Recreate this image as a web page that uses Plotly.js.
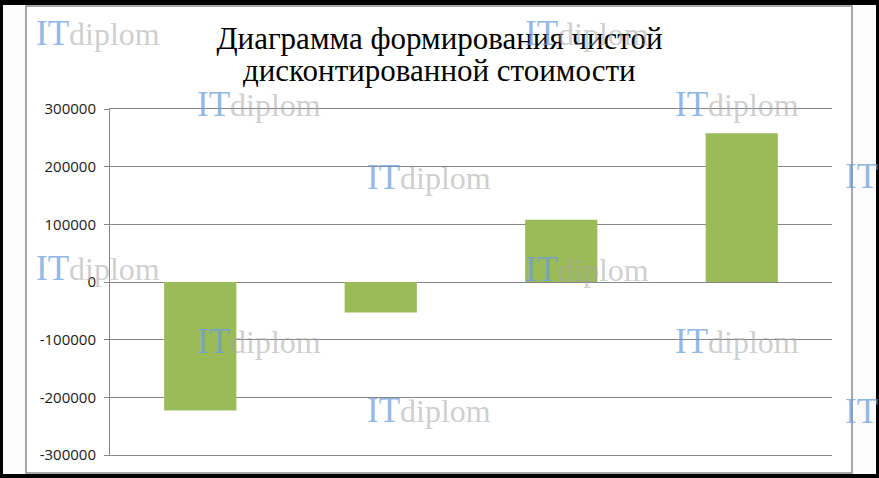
<!DOCTYPE html>
<html>
<head>
<meta charset="utf-8">
<script src="https://cdn.plot.ly/plotly-3.0.1.min.js"></script>
<style>html,body{margin:0;padding:0;background:#000;}#chart{width:879px;height:478px;}</style>
</head>
<body>
<div id="chart"></div>
<script>
// ---- data ----
const categories = ['1', '2', '3', '4'];
const npvValues = [-223000, -53000, 108000, 258000];
const yTickValues = [-300000, -200000, -100000, 0, 100000, 200000, 300000];
const yTickLabels = ['-300000', '-200000', '-100000', '0', '100000', '200000', '300000'];
const titleLine1 = 'Диаграмма формирования чистой';
const titleLine2 = 'дисконтированной стоимости';
const watermarkText = ['IT', 'diplom'];

// ---- geometry helpers (pixel -> paper) ----
const W = 879, H = 478;
const M = {l: 110, r: 47, t: 109, b: 23};
const PW = W - M.l - M.r, PH = H - M.t - M.b;
const px = v => (v - M.l) / PW;
const py = v => (H - M.b - v) / PH;

// watermark placements [left x, centre y, full?]
const wmPlaces = [
  [34, 34, true], [523, 34, true],
  [195, 105, true], [673, 105, true],
  [365, 177, true], [843, 176, false],
  [34, 268, true], [523, 269, true],
  [195, 341, true], [673, 341, true],
  [365, 410, true], [843, 411, false]
];
const wmAnnotations = wmPlaces.map(p => ({
  xref: 'paper', yref: 'paper', x: px(p[0]), y: py(p[1]),
  xanchor: 'left', yanchor: 'middle', showarrow: false,
  text: '<span style="color:rgba(105,155,222,0.72);font-size:35px">' + watermarkText[0] + '</span>' +
        (p[2] ? '<span style="color:rgba(165,165,165,0.55)">' + watermarkText[1] + '</span>' : ''),
  font: {family: 'Liberation Serif', size: 32}
}));

const trace = {
  type: 'bar',
  x: categories,
  y: npvValues,
  marker: {color: '#9BBB59', line: {width: 0}},
  hoverinfo: 'y'
};

const layout = {
  width: W, height: H,
  margin: {l: M.l, r: M.r, t: M.t, b: M.b, pad: 0},
  paper_bgcolor: '#000',
  plot_bgcolor: 'rgba(0,0,0,0)',
  showlegend: false,
  bargap: 0.6,
  title: {
    text: titleLine1,
    font: {family: 'Liberation Serif', size: 31, color: '#000'},
    x: 0.5, xref: 'container', xanchor: 'center',
    y: 1 - 38 / H, yref: 'container', yanchor: 'middle'
  },
  xaxis: {
    type: 'category', range: [-0.5, 3.5],
    showticklabels: false, showgrid: false, zeroline: false,
    showline: true, mirror: true, linecolor: '#868686', linewidth: 1, ticks: ''
  },
  yaxis: {
    range: [-300000, 300000],
    tickmode: 'array', tickvals: yTickValues, ticktext: yTickLabels,
    ticks: 'outside', ticklen: 5, tickcolor: '#868686', tickwidth: 1,
    showline: true, linecolor: '#868686', linewidth: 1,
    showgrid: true, gridcolor: '#868686', gridwidth: 1,
    zeroline: false,
    ticklabelstandoff: 5,
    tickfont: {family: 'Open Sans', size: 15, color: '#1a1a1a'}
  },
  shapes: [
    {type: 'rect', xref: 'paper', yref: 'paper', layer: 'below',
     x0: px(3), x1: px(876), y0: py(474), y1: py(5),
     fillcolor: '#fcfcfc', line: {width: 0}},
    {type: 'rect', xref: 'paper', yref: 'paper', layer: 'below',
     x0: px(26), x1: px(852), y0: py(473), y1: py(6),
     fillcolor: '#ffffff', line: {color: '#8a8a8a', width: 1.5}}
  ],
  annotations: wmAnnotations.concat([{
    xref: 'paper', yref: 'paper', x: px(439), y: py(70),
    xanchor: 'center', yanchor: 'middle', showarrow: false,
    text: titleLine2,
    font: {family: 'Liberation Serif', size: 31, color: '#000'}
  }])
};

Plotly.newPlot('chart', [trace], layout, {displayModeBar: false, staticPlot: true});
</script>
</body>
</html>
